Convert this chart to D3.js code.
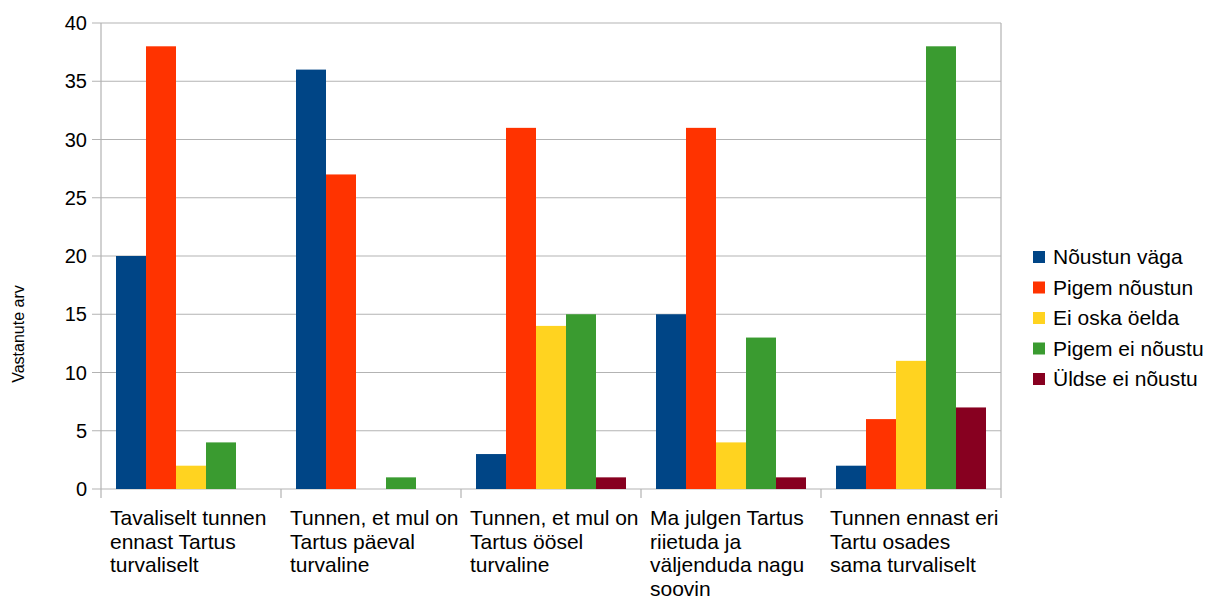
<!DOCTYPE html>
<html>
<head>
<meta charset="utf-8">
<script src="https://cdn.jsdelivr.net/npm/d3@7"></script>
<style>
  body { margin: 0; background: #fff; }
  text { font-family: "Liberation Sans", Arial, sans-serif; fill: #000; }
</style>
</head>
<body>
<div id="chart"></div>
<script>
// categories (wrapped labels)
var categories = [
  ["Tavaliselt tunnen", "ennast Tartus", "turvaliselt"],
  ["Tunnen, et mul on", "Tartus päeval", "turvaline"],
  ["Tunnen, et mul on", "Tartus öösel", "turvaline"],
  ["Ma julgen Tartus", "riietuda ja", "väljenduda nagu", "soovin"],
  ["Tunnen ennast eri", "Tartu osades", "sama turvaliselt"]
];
var seriesNames = ["Nõustun väga", "Pigem nõustun", "Ei oska öelda", "Pigem ei nõustu", "Üldse ei nõustu"];
var nõustunVäga   = [20, 36, 3, 15, 2];
var pigemNõustun  = [38, 27, 31, 31, 6];
var eiOskaÖelda   = [2, 0, 14, 4, 11];
var pigemEiNõustu = [4, 1, 15, 13, 38];
var üldseEiNõustu = [0, 0, 1, 1, 7];
var yTicks = [0, 5, 10, 15, 20, 25, 30, 35, 40];
var colors = ["#004586", "#ff3300", "#ffd320", "#3a9b30", "#870020"];

var series = [nõustunVäga, pigemNõustun, eiOskaÖelda, pigemEiNõustu, üldseEiNõustu];

var width = 1214, height = 599;
var margin = {left: 101, right: 213, top: 23, bottom: 110};
var plotW = width - margin.left - margin.right;
var plotH = height - margin.top - margin.bottom;

var svg = d3.select("#chart").append("svg")
    .attr("width", width)
    .attr("height", height);

var g = svg.append("g")
    .attr("transform", "translate(" + margin.left + "," + margin.top + ")");

var x0 = d3.scaleBand()
    .domain(d3.range(categories.length))
    .range([0, plotW])
    .paddingInner(0)
    .paddingOuter(0);

var x1 = d3.scaleBand()
    .domain(d3.range(series.length))
    .range([15, x0.bandwidth() - 15]);

var y = d3.scaleLinear()
    .domain([0, 40])
    .range([plotH, 0]);

// grid
g.selectAll(".grid")
    .data(yTicks)
    .enter()
    .append("line")
    .attr("x1", -9)
    .attr("x2", plotW)
    .attr("y1", function(d) { return y(d); })
    .attr("y2", function(d) { return y(d); })
    .attr("stroke", "#b3b3b3")
    .attr("stroke-width", 1.2);

// bars
var groups = g.selectAll(".grp")
    .data(categories)
    .enter()
    .append("g")
    .attr("transform", function(d, i) { return "translate(" + x0(i) + ",0)"; });

groups.selectAll("rect")
    .data(function(d, i) { return series.map(function(s, k) { return {k: k, v: s[i]}; }); })
    .enter()
    .append("rect")
    .attr("x", function(d) { return x1(d.k); })
    .attr("width", x1.bandwidth())
    .attr("y", function(d) { return y(d.v); })
    .attr("height", function(d) { return plotH - y(d.v); })
    .attr("fill", function(d) { return colors[d.k]; });

// axes lines
g.append("line")
    .attr("x1", 0).attr("x2", 0)
    .attr("y1", 0).attr("y2", plotH + 9)
    .attr("stroke", "#b3b3b3").attr("stroke-width", 1.2);
g.append("line")
    .attr("x1", plotW).attr("x2", plotW)
    .attr("y1", 0).attr("y2", plotH + 9)
    .attr("stroke", "#b3b3b3").attr("stroke-width", 1.2);
g.selectAll(".xtick")
    .data(d3.range(1, categories.length))
    .enter()
    .append("line")
    .attr("x1", function(d) { return x0(d); })
    .attr("x2", function(d) { return x0(d); })
    .attr("y1", plotH)
    .attr("y2", plotH + 9)
    .attr("stroke", "#b3b3b3").attr("stroke-width", 1.2);

// y tick labels
g.selectAll(".ylab")
    .data(yTicks)
    .enter()
    .append("text")
    .attr("x", -14)
    .attr("y", function(d) { return y(d); })
    .attr("dy", "0.35em")
    .attr("text-anchor", "end")
    .style("font-size", "20px")
    .text(function(d) { return d; });

// category labels
groups.each(function(lines, i) {
  var t = d3.select(this).append("text")
      .attr("x", 9)
      .attr("y", plotH + 36)
      .style("font-size", "21px");
  t.selectAll("tspan")
      .data(lines)
      .enter()
      .append("tspan")
      .attr("x", 9)
      .attr("dy", function(d, j) { return j === 0 ? 0 : 23.5; })
      .text(function(d) { return d; });
});

// y axis title
svg.append("text")
    .attr("transform", "translate(24,334) rotate(-90)")
    .attr("text-anchor", "middle")
    .style("font-size", "16px")
    .text("Vastanute arv");

// legend
var legend = svg.append("g")
    .attr("transform", "translate(1033,257)")
    .selectAll("g")
    .data(seriesNames)
    .enter()
    .append("g")
    .attr("transform", function(d, i) { return "translate(0," + i * 30.5 + ")"; });
legend.append("rect")
    .attr("x", 0)
    .attr("y", -6)
    .attr("width", 12)
    .attr("height", 12)
    .attr("fill", function(d, i) { return colors[i]; });
legend.append("text")
    .attr("x", 20)
    .attr("dy", "0.35em")
    .style("font-size", "21px")
    .text(function(d) { return d; });
</script>
</body>
</html>
